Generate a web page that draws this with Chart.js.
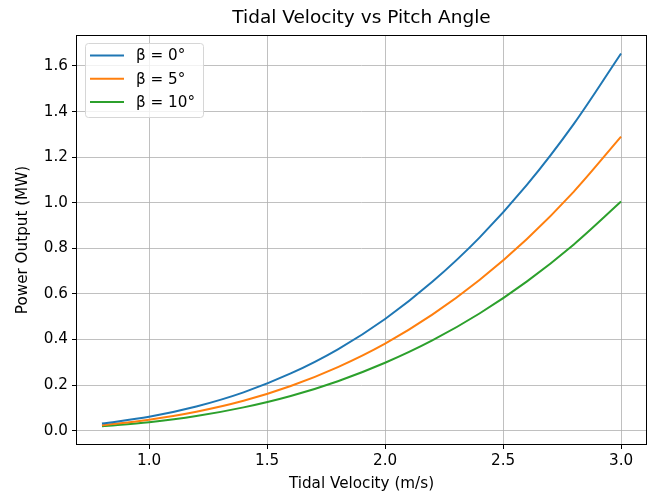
<!DOCTYPE html>
<html>
<head>
<meta charset="utf-8">
<script src="https://cdn.jsdelivr.net/npm/chart.js@4"></script>
<style>
  html, body { margin: 0; padding: 0; background: #fff; }
  #wrap { width: 648px; height: 493px; }
</style>
</head>
<body>
<div id="wrap"><canvas id="chart" width="648" height="493"></canvas></div>
<script>
// values
const velocity = [0.8, 1.0, 1.2, 1.4, 1.6, 1.8, 2.0, 2.2, 2.4, 2.6, 2.8, 3.0];
const power0 = [0.031, 0.061, 0.106, 0.168, 0.251, 0.357, 0.490, 0.653, 0.847, 1.077, 1.346, 1.655];
const power5 = [0.024, 0.048, 0.083, 0.131, 0.196, 0.279, 0.382, 0.509, 0.661, 0.840, 1.049, 1.290];
const power10 = [0.019, 0.037, 0.064, 0.102, 0.152, 0.217, 0.298, 0.396, 0.514, 0.654, 0.817, 1.005];
const seriesLabels = ['β = 0°', 'β = 5°', 'β = 10°'];
const seriesColors = ['#1f77b4', '#ff7f0e', '#2ca02c'];
const chartTitle = 'Tidal Velocity vs Pitch Angle';

const FONT = 'DejaVu Sans';
const TEXT_SIZE = 15.2;

function toPoints(ys) {
    return ys.map(function(y, i) { return { x: velocity[i], y: y }; });
}

// frame round the plot area, like matplotlib spines
const framePlugin = {
    id: 'frame',
    afterDatasetsDraw: function(chart) {
        const a = chart.chartArea;
        const ctx = chart.ctx;
        ctx.save();
        ctx.strokeStyle = '#000';
        ctx.lineWidth = 1;
        ctx.strokeRect(Math.round(a.left) + 0.5, Math.round(a.top) + 0.5,
            Math.round(a.right - a.left) - 1, Math.round(a.bottom - a.top) - 1);
        ctx.restore();
    }
};

// title centred over the plot area, not the whole canvas
const axesTitle = {
    id: 'axesTitle',
    afterDraw: function(chart) {
        const a = chart.chartArea;
        const ctx = chart.ctx;
        ctx.save();
        ctx.font = '18.5px "' + FONT + '"';
        ctx.fillStyle = '#000';
        ctx.textAlign = 'center';
        ctx.textBaseline = 'middle';
        ctx.fillText(chartTitle, (a.left + a.right) / 2, 18);
        ctx.restore();
    }
};

// legend drawn inside the upper left corner
const innerLegend = {
    id: 'innerLegend',
    afterDraw: function(chart) {
        const a = chart.chartArea;
        const ctx = chart.ctx;
        const x0 = a.left + 9, y0 = a.top + 8;
        const w = 118, h = 74;
        ctx.save();
        ctx.fillStyle = 'rgba(255,255,255,0.8)';
        ctx.strokeStyle = '#d6d6d6';
        ctx.lineWidth = 1;
        ctx.beginPath();
        ctx.roundRect(x0 + 0.5, y0 + 0.5, w, h, 3);
        ctx.fill();
        ctx.stroke();
        ctx.font = TEXT_SIZE + 'px "' + FONT + '"';
        ctx.textBaseline = 'middle';
        chart.data.datasets.forEach(function(ds, i) {
            const y = y0 + 12.5 + i * 23.3;
            ctx.strokeStyle = ds.borderColor;
            ctx.lineWidth = 2;
            ctx.beginPath();
            ctx.moveTo(x0 + 5, y);
            ctx.lineTo(x0 + 39, y);
            ctx.stroke();
            ctx.fillStyle = '#000';
            ctx.fillText(ds.label, x0 + 51, y + 1);
        });
        ctx.restore();
    }
};

const datasets = [power0, power5, power10].map(function(vals, i) {
    return {
        label: seriesLabels[i],
        data: toPoints(vals),
        borderColor: seriesColors[i],
        backgroundColor: seriesColors[i],
        borderWidth: 2,
        pointRadius: 0,
        fill: false,
        cubicInterpolationMode: 'monotone'
    };
});

new Chart(document.getElementById('chart').getContext('2d'), {
    type: 'line',
    data: { datasets: datasets },
    options: {
        responsive: false,
        animation: false,
        layout: { padding: { left: 14, right: 1, top: 35, bottom: 0 } },
        plugins: {
            legend: { display: false },
            tooltip: { enabled: false },
            title: { display: false }
        },
        scales: {
            x: {
                type: 'linear',
                min: 0.69,
                max: 3.11,
                afterFit: function(s) { s.height = 48; },
                ticks: {
                    stepSize: 0.5,
                    includeBounds: false,
                    color: '#000',
                    padding: 3,
                    font: { family: FONT, size: TEXT_SIZE },
                    callback: function(v) { return v.toFixed(1); }
                },
                grid: { color: '#b0b0b0', lineWidth: 0.8, tickColor: '#000', tickLength: 4, tickWidth: 1 },
                border: { display: false },
                title: {
                    display: true,
                    text: 'Tidal Velocity (m/s)',
                    color: '#000',
                    font: { family: FONT, size: TEXT_SIZE },
                    padding: { top: 0, bottom: 0 }
                }
            },
            y: {
                type: 'linear',
                min: -0.063,
                max: 1.736,
                afterFit: function(s) { s.width = 62; },
                ticks: {
                    stepSize: 0.2,
                    includeBounds: false,
                    color: '#000',
                    padding: 4,
                    font: { family: FONT, size: TEXT_SIZE },
                    callback: function(v) { return v.toFixed(1); }
                },
                grid: { color: '#b0b0b0', lineWidth: 0.8, tickColor: '#000', tickLength: 4, tickWidth: 1 },
                border: { display: false },
                title: {
                    display: true,
                    text: 'Power Output (MW)',
                    color: '#000',
                    font: { family: FONT, size: TEXT_SIZE },
                    padding: { top: 0, bottom: 4 }
                }
            }
        }
    },
    plugins: [framePlugin, axesTitle, innerLegend]
});
</script>
</body>
</html>
